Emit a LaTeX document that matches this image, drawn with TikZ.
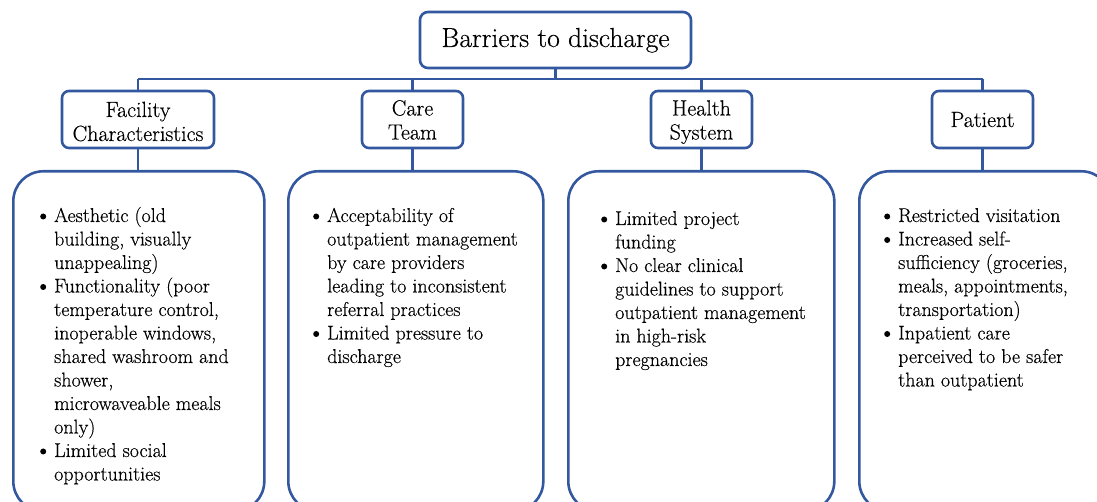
\documentclass[tikz,border=0pt]{standalone}
\usepackage{fontspec}
\setmainfont{Latin Modern Roman}[FakeBold=0.35]
\definecolor{bdr}{RGB}{52,88,160}
\newcommand{\bul}{\tikz[baseline=0pt,x=1pt,y=1pt]\fill (3,5.5) circle (3);}
\tikzset{
  conn/.style={draw=bdr, line width=2.6pt},
  titlebox/.style={draw=bdr, line width=2.6pt, rounded corners=8pt, fill=white, minimum width=271pt, minimum height=56pt, inner sep=0pt},
  hdrbox/.style={draw=bdr, line width=2.6pt, rounded corners=7pt, fill=white, minimum height=57pt, inner sep=0pt},
  bigbox/.style={draw=bdr, line width=2.6pt, rounded corners=30pt, fill=white, minimum height=340pt, inner sep=0pt, anchor=north west},
  titletext/.style={font=\fontsize{27.5}{30}\selectfont, inner sep=0pt, anchor=base},
  hdrtext/.style={font=\fontsize{22}{24}\selectfont, inner sep=0pt, anchor=base},
  bodytext/.style={font=\fontsize{20}{23.5}\selectfont, inner sep=0pt, anchor=base west}
}
\begin{document}
\begin{tikzpicture}[x=1pt,y=-1pt]
\useasboundingbox (0,0) rectangle (1097,502);
\clip (0,0) rectangle (1097,502);

% nodes
\node[titlebox] (title) at (555.5,40) {};
\node[titletext] (titlet) at (555.5,47) {Barriers to discharge};

\node[hdrbox, minimum width=152pt] (fac) at (138,119.5) {};
\node[hdrbox, minimum width=101pt] (care) at (412.5,119.5) {};
\node[hdrbox, minimum width=101pt] (hs) at (701.5,119.5) {};
\node[hdrbox, minimum width=101pt] (pat) at (982.5,119.5) {};

\node[hdrtext] (fact) at (138,117) {\begin{tabular}[t]{@{}c@{}}Facility\\Characteristics\end{tabular}};
\node[hdrtext] (caret) at (412.5,115.5) {\begin{tabular}[t]{@{}c@{}}Care\\Team\end{tabular}};
\node[hdrtext] (hst) at (701.5,115.5) {\begin{tabular}[t]{@{}c@{}}Health\\System\end{tabular}};
\node[hdrtext] (patt) at (982.5,127) {Patient};

\node[bigbox, minimum width=251pt] (b1) at (12,170) {};
\node[bigbox, minimum width=255pt] (b2) at (287,170) {};
\node[bigbox, minimum width=266pt] (b3) at (567,170) {};
\node[bigbox, minimum width=252pt] (b4) at (858,170) {};

% connectors
\coordinate (busL) at (138,79);
\coordinate (busR) at (982.5,79);
\draw[conn] (busL) -- (busR);
\draw[conn] (title.south) -- (title.south |- busL);
\draw[conn] (fac.north) -- (fac.north |- busL);
\draw[conn] (care.north) -- (care.north |- busL);
\draw[conn] (hs.north) -- (hs.north |- busL);
\draw[conn] (pat.north) -- (pat.north |- busL);
\draw[conn] (fac.south) -- (fac.south |- b1.north);
\draw[conn] (care.south) -- (care.south |- b2.north);
\draw[conn] (hs.south) -- (hs.south |- b3.north);
\draw[conn] (pat.south) -- (pat.south |- b4.north);

% body texts
\node[bodytext] (t1) at (40,222) {\begin{tabular}[t]{@{}l@{\hspace{8pt}}l@{}}
\bul & Aesthetic (old\\
 & building, visually\\
 & unappealing)\\
\bul & Functionality (poor\\
 & temperature control,\\
 & inoperable windows,\\
 & shared washroom and\\
 & shower,\\
 & microwaveable meals\\
 & only)\\
\bul & Limited social\\
 & opportunities
\end{tabular}};

\node[bodytext] (t2) at (313,222) {\begin{tabular}[t]{@{}l@{\hspace{8pt}}l@{}}
\bul & Acceptability of\\
 & outpatient management\\
 & by care providers\\
 & leading to inconsistent\\
 & referral practices\\
\bul & Limited pressure to\\
 & discharge
\end{tabular}};

\node[bodytext] (t3) at (601,225) {\begin{tabular}[t]{@{}l@{\hspace{8pt}}l@{}}
\bul & Limited project\\
 & funding\\
\bul & No clear clinical\\
 & guidelines to support\\
 & outpatient management\\
 & in high-risk\\
 & pregnancies
\end{tabular}};

\node[bodytext] (t4) at (884,222) {\begin{tabular}[t]{@{}l@{\hspace{8pt}}l@{}}
\bul & Restricted visitation\\
\bul & Increased self-\\
 & sufficiency (groceries,\\
 & meals, appointments,\\
 & transportation)\\
\bul & Inpatient care\\
 & perceived to be safer\\
 & than outpatient
\end{tabular}};
\end{tikzpicture}
\end{document}
